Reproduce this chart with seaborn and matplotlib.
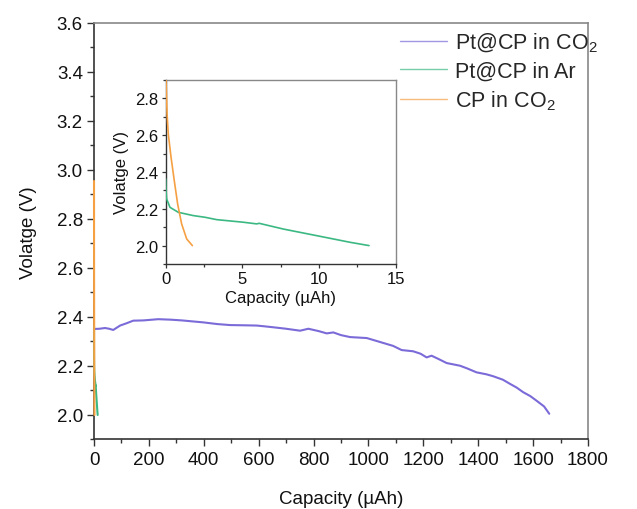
import numpy as np
import pandas as pd
import matplotlib
matplotlib.use("Agg")
import matplotlib.pyplot as plt
import seaborn as sns
from matplotlib.ticker import MultipleLocator
from matplotlib.lines import Line2D

sns.set_theme(style="white")
plt.rcParams['font.family'] = ['Liberation Sans', 'DejaVu Sans']
plt.rcParams['mathtext.fontset'] = 'custom'
plt.rcParams['mathtext.rm'] = 'Liberation Sans'

# Pt@CP in CO2 (main)
pt_co2_cap = [0, 20, 40, 55, 70, 95, 120, 143, 180, 234, 280, 320, 398, 450, 496, 550, 593, 620, 653, 700,
              751, 781, 820, 848, 872, 900, 933, 994, 1054, 1090, 1121, 1163, 1190, 1212, 1230, 1260, 1285,
              1334, 1360, 1394, 1430, 1455, 1490, 1516, 1540, 1564, 1590, 1613, 1640, 1659]
pt_co2_v = [2.351, 2.352, 2.355, 2.352, 2.347, 2.365, 2.375, 2.385, 2.386, 2.391, 2.389, 2.386, 2.378,
            2.371, 2.367, 2.366, 2.365, 2.362, 2.358, 2.352, 2.344, 2.352, 2.342, 2.333, 2.337, 2.326,
            2.318, 2.314, 2.294, 2.282, 2.265, 2.260, 2.250, 2.235, 2.242, 2.226, 2.212, 2.201, 2.190,
            2.174, 2.166, 2.158, 2.144, 2.127, 2.112, 2.093, 2.077, 2.058, 2.035, 2.005]

# Pt@CP in Ar
pt_ar_cap = [0, 0.02, 0.06, 0.28, 0.82, 1.8, 2.56, 3.33, 5.06, 5.93, 6.1, 7.67, 9.85, 12.02, 13.26]
pt_ar_v = [2.362, 2.30, 2.254, 2.208, 2.181, 2.163, 2.154, 2.141, 2.127, 2.118, 2.121, 2.090, 2.054,
           2.018, 2.000]

# CP in CO2
cp_co2_cap = [0, 0.02, 0.09, 0.17, 0.35, 0.56, 0.78, 1.04, 1.37, 1.74]
cp_co2_v = [2.955, 2.905, 2.715, 2.606, 2.480, 2.353, 2.226, 2.118, 2.036, 2.000]

labels = ["Pt@CP in CO$_2$", "Pt@CP in Ar", "CP in CO$_2$"]
colors = ["#7A6BD8", "#3CB883", "#F5A043"]

df = pd.concat([
    pd.DataFrame({"cap": pt_co2_cap, "v": pt_co2_v, "s": labels[0]}),
    pd.DataFrame({"cap": pt_ar_cap, "v": pt_ar_v, "s": labels[1]}),
    pd.DataFrame({"cap": cp_co2_cap, "v": cp_co2_v, "s": labels[2]}),
])
pal = dict(zip(labels, colors))

fig = plt.figure(figsize=(6.37, 5.10), dpi=100)
ax = fig.add_axes([0.1476, 0.1363, 0.9230 - 0.1476, 0.953 - 0.1363])
sns.lineplot(data=df, x="cap", y="v", hue="s", palette=pal, ax=ax, sort=False,
             estimator=None, linewidth=1.5, legend=False)
for ln in ax.get_lines():
    ln.set_zorder(5)
    ln.set_clip_on(False)
ax.set_xlim(0, 1800)
ax.set_ylim(1.9, 3.6)
ax.xaxis.set_major_locator(MultipleLocator(200))
ax.xaxis.set_minor_locator(MultipleLocator(100))
yt = [2.0, 2.2, 2.4, 2.6, 2.8, 3.0, 3.2, 3.4, 3.6]
ax.set_yticks(yt)
ax.set_yticklabels([f"{t:.1f}" for t in yt])
ax.yaxis.set_minor_locator(MultipleLocator(0.1))
ax.tick_params(which='major', direction='out', length=5, width=1, color='#333333',
               labelsize=13.5, bottom=True, left=True, pad=3, labelcolor='#111111')
ax.tick_params(which='minor', direction='out', length=3, width=1, color='#333333', bottom=True, left=True)
ax.set_xlabel("Capacity (µAh)", fontsize=13.5, labelpad=16, color='#111111')
ax.set_ylabel("Volatge (V)", fontsize=13.5, labelpad=14, color='#111111')
for side in ['left', 'bottom']:
    ax.spines[side].set_color('#333333')
    ax.spines[side].set_linewidth(1.2)
for side in ['top', 'right']:
    ax.spines[side].set_color('#888888')
    ax.spines[side].set_linewidth(1.2)

handles = [Line2D([], [], color=c, lw=1.0, alpha=0.7) for c in colors]
fig.legend(handles, labels, loc='upper left', bbox_to_anchor=(0.597, 0.975), frameon=False,
           fontsize=15.5, handlelength=2.2, handletextpad=0.35, labelspacing=0.3)

# Inset
axi = fig.add_axes([0.2601, 0.4804, 0.6212 - 0.2601, 0.8412 - 0.4804])
dfi = df[df["s"] != labels[0]]
sns.lineplot(data=dfi, x="cap", y="v", hue="s", palette=pal, ax=axi, sort=False,
             estimator=None, linewidth=1.2, legend=False)
for ln in axi.get_lines():
    ln.set_zorder(5)
axi.set_xlim(0, 15)
axi.set_ylim(1.9, 2.9)
axi.xaxis.set_major_locator(MultipleLocator(5))
axi.xaxis.set_minor_locator(MultipleLocator(2.5))
axi.set_yticks([2.0, 2.2, 2.4, 2.6, 2.8])
axi.set_yticklabels(["2.0", "2.2", "2.4", "2.6", "2.8"])
axi.yaxis.set_minor_locator(MultipleLocator(0.1))
axi.tick_params(which='major', direction='out', length=3, width=0.9, color='#333333',
                labelsize=12, bottom=True, left=True, pad=2, labelcolor='#111111')
axi.tick_params(which='minor', direction='out', length=2, width=0.9, color='#333333', bottom=True, left=True)
axi.set_xlabel("Capacity (µAh)", fontsize=12, labelpad=3, color='#111111')
axi.set_ylabel("Volatge (V)", fontsize=12, labelpad=5, color='#111111')
for side in ['left', 'bottom']:
    axi.spines[side].set_color('#333333')
for side in ['top', 'right']:
    axi.spines[side].set_color('#888888')
for s in axi.spines.values():
    s.set_linewidth(1.0)

fig.savefig("out.png", dpi=100)
